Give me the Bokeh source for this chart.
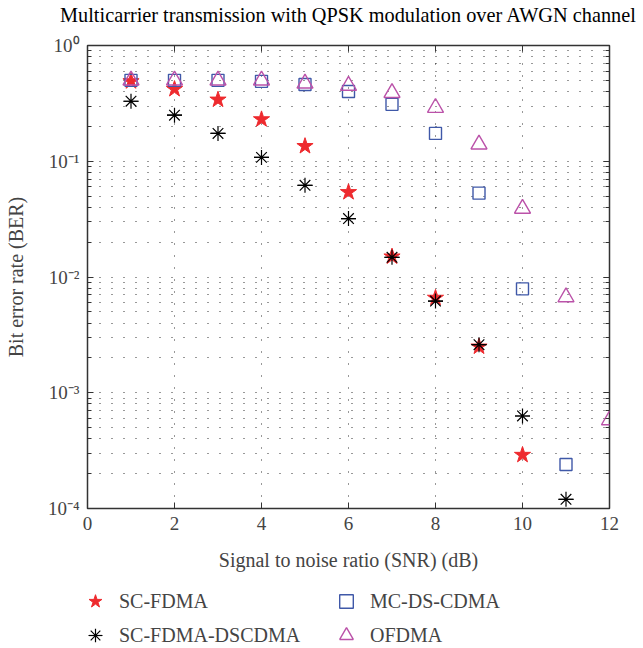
from bokeh.plotting import figure
from bokeh.layouts import column
from bokeh.models import (FixedTicker, LogAxis, LinearAxis, Legend, LegendItem, Range1d)
from bokeh.embed import file_html
from bokeh.resources import INLINE

# ---------------- data ----------------
title_text = "Multicarrier transmission with QPSK modulation over AWGN channel"
x_label = "Signal to noise ratio (SNR) (dB)"
y_label = "Bit error rate (BER)"

x_ticks = [0, 2, 4, 6, 8, 10, 12]
y_ticks = [1e-4, 1e-3, 1e-2, 1e-1, 1.0]
y_tick_labels = ["10\u207b\u2074", "10\u207b\u00b3", "10\u207b\u00b2", "10\u207b\u00b9", "10\u2070"]
y_minor = [m * d for d in [1e-4, 1e-3, 1e-2, 1e-1] for m in range(2, 10)]

snr_sc = [1, 2, 3, 4, 5, 6, 7, 8, 9, 10]
ber_sc = [0.49, 0.42, 0.34, 0.23, 0.135, 0.054, 0.015, 0.0066, 0.0025, 0.00029]

snr_ds = [1, 2, 3, 4, 5, 6, 7, 8, 9, 10, 11]
ber_ds = [0.33, 0.25, 0.174, 0.108, 0.062, 0.032, 0.0148, 0.0062, 0.0026, 0.00063, 0.00012]

snr_mc = [1, 2, 3, 4, 5, 6, 7, 8, 9, 10, 11]
ber_mc = [0.5, 0.5, 0.5, 0.49, 0.46, 0.40, 0.31, 0.174, 0.053, 0.0079, 0.00024]

snr_of = [1, 2, 3, 4, 5, 6, 7, 8, 9, 10, 11, 12]
ber_of = [0.5, 0.5, 0.5, 0.5, 0.47, 0.45, 0.39, 0.29, 0.14, 0.039, 0.0067, 0.00058]

names = ["SC-FDMA", "SC-FDMA-DSCDMA", "MC-DS-CDMA", "OFDMA"]

# ---------------- style ----------------
FONT = "Liberation Serif"
RED = "#ee2a2e"
BLUE = "#3f58a8"
MAG = "#bb52a9"
FRAME = "#333333"

STYLES = [
    [dict(marker="star", size=17, fill_color=RED, line_color=RED)],
    [dict(marker="asterisk", size=15, line_color="black", line_width=1.2),
     dict(marker="dash", size=15, line_color="black", line_width=1.2)],
    [dict(marker="square", size=12, fill_color=None, line_color=BLUE, line_width=1.4)],
    [dict(marker="triangle", size=16, fill_color=None, line_color=MAG, line_width=1.4)],
]
SERIES = [(snr_sc, ber_sc), (snr_ds, ber_ds), (snr_mc, ber_mc), (snr_of, ber_of)]

W = 642
p = figure(width=W, height=580, x_range=Range1d(0, 12), y_range=Range1d(1e-4, 1),
           y_axis_type="log", output_backend="svg", toolbar_location=None,
           min_border_left=87, min_border_right=W - 609, min_border_top=44,
           min_border_bottom=72)
p.background_fill_color = "white"
p.border_fill_color = "white"
p.outline_line_color = FRAME
p.outline_line_width = 1.5

xt = FixedTicker(ticks=x_ticks, minor_ticks=[])
yt = FixedTicker(ticks=y_ticks, minor_ticks=y_minor)

xa = p.xaxis[0]
xa.ticker = xt
xa.axis_label = x_label
xa.axis_label_text_font = FONT
xa.axis_label_text_font_size = "20px"
xa.axis_label_text_font_style = "normal"
xa.axis_label_standoff = 16
xa.major_label_text_font = FONT
xa.major_label_text_font_size = "19px"
xa.major_label_standoff = 8
xa.major_tick_in = 6
xa.major_tick_out = 0
xa.minor_tick_in = 0
xa.minor_tick_out = 0
xa.axis_line_color = None
xa.major_tick_line_color = FRAME

ya = p.yaxis[0]
ya.ticker = yt
ya.axis_label = y_label
ya.axis_label_text_font = FONT
ya.axis_label_text_font_size = "20px"
ya.axis_label_text_font_style = "normal"
ya.axis_label_standoff = 18
ya.major_label_text_font = FONT
ya.major_label_text_font_size = "19px"
ya.major_label_standoff = 8
ya.major_label_overrides = {t: l for t, l in zip(y_ticks, y_tick_labels)}
ya.major_tick_in = 6
ya.major_tick_out = 0
ya.minor_tick_in = 4
ya.minor_tick_out = 0
ya.axis_line_color = None
ya.major_tick_line_color = FRAME
ya.minor_tick_line_color = FRAME

# top axis carries the chart title as its label
top = LinearAxis(ticker=xt, major_label_overrides={t: "" for t in x_ticks},
                 major_label_standoff=0,
                 major_tick_in=6, major_tick_out=0, minor_tick_in=0, minor_tick_out=0,
                 axis_line_color=None, major_tick_line_color=FRAME,
                 axis_label=title_text, axis_label_standoff=20,
                 axis_label_text_font=FONT, axis_label_text_font_size="20.3px",
                 axis_label_text_font_style="normal", axis_label_text_color="black")
p.add_layout(top, "above")
right = LogAxis(ticker=yt, major_label_overrides={t: "" for t in y_ticks},
                major_label_standoff=0,
                major_tick_in=6, major_tick_out=0, minor_tick_in=4, minor_tick_out=0,
                axis_line_color=None, major_tick_line_color=FRAME,
                minor_tick_line_color=FRAME)
p.add_layout(right, "right")

for g in (p.xgrid[0], p.ygrid[0]):
    g.grid_line_color = "black"
    g.grid_line_dash = "1 11"
    g.grid_line_width = 1
    g.grid_line_alpha = 0.8
p.xgrid[0].ticker = xt
p.ygrid[0].ticker = yt
p.ygrid[0].minor_grid_line_color = "black"
p.ygrid[0].minor_grid_line_dash = "1 11"
p.ygrid[0].minor_grid_line_alpha = 0.8

# ---------------- marks ----------------
for (xs, ys), styles in zip(SERIES, STYLES):
    for st in styles:
        p.scatter(xs, ys, **st)

# ---------------- legend (separate strip below the plot) ----------------
p2 = figure(width=W, height=66, output_backend="svg", toolbar_location=None,
            x_axis_location=None, y_axis_location=None,
            min_border_left=0, min_border_right=0, min_border_top=0, min_border_bottom=0)
p2.outline_line_color = None
p2.grid.visible = False
p2.background_fill_color = "white"
p2.border_fill_color = "white"

items = []
for name, (xs, ys), styles in zip(names, SERIES, STYLES):
    rs = [p2.scatter(xs, ys, visible=False, **st) for st in styles]
    items.append(LegendItem(label=name, renderers=rs))

legend = Legend(items=items, location=(-9, -6), orientation="vertical", nrows=2,
                glyph_width=34, glyph_height=34, label_standoff=7,
                label_width=210, spacing=0, padding=0, margin=0,
                label_text_font=FONT, label_text_font_size="20px",
                border_line_color=None, background_fill_alpha=0)
p2.add_layout(legend, "center")

layout = column(p, p2, spacing=0)
open("out.html", "w").write(file_html(layout, INLINE))
